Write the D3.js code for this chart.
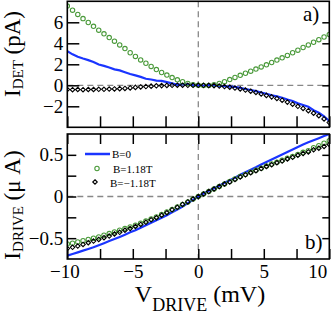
<!DOCTYPE html>
<html>
<head>
<meta charset="utf-8">
<script src="https://cdn.jsdelivr.net/npm/d3@7"></script>
<style>
  body { margin: 0; background: #fff; }
  .tick line { stroke: #000; stroke-width: 1.5; }
</style>
</head>
<body>
<div id="chart"></div>
<script>
// drive voltage (mV), shared by all series
var vDrive = [-10, -9.6, -9.2, -8.8, -8.4, -8.0, -7.6, -7.2, -6.8, -6.4, -6.0, -5.6, -5.2, -4.8, -4.4, -4.0, -3.6, -3.2, -2.8, -2.4, -2.0, -1.6, -1.2, -0.8, -0.4,
              0, 0.4, 0.8, 1.2, 1.6, 2.0, 2.4, 2.8, 3.2, 3.6, 4.0, 4.4, 4.8, 5.2, 5.6, 6.0, 6.4, 6.8, 7.2, 7.6, 8.0, 8.4, 8.8, 9.2, 9.6, 10];

// panel a) detector current (pA)
var detB0 = [3.25, 2.95, 2.72, 2.55, 2.4, 2.22, 1.98, 1.85, 1.7, 1.52, 1.42, 1.25, 1.08, 0.95, 0.8, 0.62, 0.55, 0.45, 0.42, 0.3, 0.18, 0.05, 0.12, 0.08, 0.02,
             0.0, -0.02, 0.03, 0.0, -0.05, -0.08, -0.12, -0.15, -0.25, -0.35, -0.45, -0.55, -0.68, -0.8, -0.95, -1.05, -1.18, -1.35, -1.5, -1.72, -1.88, -2.05, -2.38, -2.62, -2.95, -3.4];
var detBplus = [7.55, 7.15, 6.75, 6.35, 5.98, 5.62, 5.25, 4.9, 4.55, 4.2, 3.85, 3.5, 3.1, 2.75, 2.42, 2.1, 1.8, 1.5, 1.22, 0.97, 0.74, 0.52, 0.35, 0.18, 0.06,
                0.0, -0.03, -0.02, 0.05, 0.18, 0.35, 0.55, 0.75, 0.95, 1.15, 1.35, 1.55, 1.75, 1.95, 2.17, 2.4, 2.62, 2.85, 3.1, 3.35, 3.6, 3.85, 4.1, 4.35, 4.6, 4.85];
var detBminus = [-0.4, -0.42, -0.4, -0.42, -0.4, -0.4, -0.38, -0.38, -0.36, -0.35, -0.32, -0.3, -0.25, -0.2, -0.16, -0.12, -0.08, -0.05, -0.03, -0.01, 0.0, 0.01, 0.01, 0.0, 0.0,
                 0.0, 0.0, -0.01, -0.03, -0.07, -0.12, -0.18, -0.26, -0.35, -0.45, -0.56, -0.68, -0.82, -0.96, -1.1, -1.25, -1.42, -1.6, -1.8, -2.0, -2.2, -2.42, -2.65, -2.9, -3.2, -3.55];

// panel b) drive current (uA)
var driveB0 = [-0.71, -0.69, -0.67, -0.65, -0.63, -0.61, -0.585, -0.56, -0.535, -0.51, -0.485, -0.46, -0.43, -0.405, -0.375, -0.345, -0.315, -0.285, -0.255, -0.225, -0.19, -0.155, -0.12, -0.08, -0.04,
               0.0, 0.035, 0.07, 0.1, 0.13, 0.165, 0.195, 0.225, 0.26, 0.29, 0.32, 0.35, 0.385, 0.415, 0.445, 0.475, 0.505, 0.535, 0.565, 0.595, 0.625, 0.65, 0.675, 0.7, 0.725, 0.75];
var driveBplus = [-0.57, -0.56, -0.545, -0.53, -0.515, -0.5, -0.485, -0.465, -0.445, -0.425, -0.405, -0.385, -0.365, -0.345, -0.32, -0.295, -0.27, -0.245, -0.215, -0.185, -0.155, -0.125, -0.095, -0.065, -0.03,
                  0.0, 0.03, 0.06, 0.09, 0.12, 0.15, 0.18, 0.21, 0.24, 0.265, 0.29, 0.315, 0.34, 0.365, 0.39, 0.41, 0.435, 0.46, 0.48, 0.505, 0.53, 0.55, 0.585, 0.61, 0.64, 0.67];
var driveBminus = [-0.625, -0.61, -0.595, -0.575, -0.555, -0.535, -0.515, -0.495, -0.475, -0.45, -0.43, -0.405, -0.385, -0.36, -0.335, -0.31, -0.28, -0.255, -0.225, -0.195, -0.16, -0.13, -0.095, -0.065, -0.03,
                   0.0, 0.03, 0.06, 0.09, 0.12, 0.15, 0.175, 0.205, 0.235, 0.26, 0.285, 0.31, 0.335, 0.36, 0.38, 0.405, 0.425, 0.45, 0.47, 0.495, 0.515, 0.535, 0.56, 0.58, 0.6, 0.625];

// ticks
var xTicks = [-10, -7.5, -5, -2.5, 0, 2.5, 5, 7.5, 10];
var detTicks = [-2, 0, 2, 4, 6];
var driveTicks = [-0.5, -0.25, 0, 0.25, 0.5];
var driveTickLabels = [-0.5, 0, 0.5];

var legendNames = ["B=0", "B=1.18T", "B=\u22121.18T"];

var blue = "#1a35ff", green = "#4a9a3a", black = "#000";
var serif = "'Liberation Serif', 'DejaVu Serif', serif";

var svg = d3.select("#chart").append("svg")
            .attr("width", 332)
            .attr("height", 317)
            .attr("font-family", serif);

var left = 67.3, right = 329.3;
var x = d3.scaleLinear().domain([-10, 10]).range([left, right]);
// square-ish diamond if this d3 has it
var diamond = d3.symbolDiamond2 ? d3.symbol().type(d3.symbolDiamond2).size(13)
                                : d3.symbol().type(d3.symbolDiamond).size(13);

//puts the serif font back on axis labels (d3 sets sans-serif on the axis group)
function serifTicks(a) {
  a.attr("font-family", serif).attr("font-size", null);
  a.selectAll(".tick text").style("font-family", serif).style("font-size", "19px").attr("fill", "#000");
  a.select(".domain").remove();
}

//draws one panel: frame, dashed zero lines, data, ticks
function drawPanel(id, top, bottom, yDomain, yTicks, labelFmt, series, xTickLen, topTicks) {
  var y = d3.scaleLinear().domain(yDomain).range([bottom, top]);
  var g = svg.append("g");

  g.append("clipPath").attr("id", "clip" + id)
   .append("rect").attr("x", left).attr("y", top)
   .attr("width", right - left).attr("height", bottom - top);

  // dashed zero lines
  g.append("line")
   .attr("x1", x(0)).attr("x2", x(0)).attr("y1", top).attr("y2", bottom)
   .attr("stroke", "#888").attr("stroke-width", 1.3).attr("stroke-dasharray", "6,4");
  g.append("line")
   .attr("x1", left).attr("x2", right).attr("y1", y(0)).attr("y2", y(0))
   .attr("stroke", "#888").attr("stroke-width", 1.3).attr("stroke-dasharray", "6,4");

  var plot = g.append("g").attr("clip-path", "url(#clip" + id + ")");

  // B=0 as a line
  plot.append("path")
      .datum(series[0])
      .attr("fill", "none")
      .attr("stroke", blue)
      .attr("stroke-width", 2.2)
      .attr("d", d3.line().x(function(d, i) { return x(vDrive[i]); }).y(function(d) { return y(d); }));

  // B=1.18T open circles
  plot.selectAll(".circ")
      .data(series[1])
    .enter().append("circle")
      .attr("cx", function(d, i) { return x(vDrive[i]); })
      .attr("cy", function(d) { return y(d); })
      .attr("r", 2.2)
      .attr("fill", "none")
      .attr("stroke", green)
      .attr("stroke-width", 1.1);

  // B=-1.18T open diamonds
  plot.selectAll(".diam")
      .data(series[2])
    .enter().append("path")
      .attr("d", diamond)
      .attr("transform", function(d, i) { return "translate(" + x(vDrive[i]) + "," + y(d) + ")"; })
      .attr("fill", "none")
      .attr("stroke", black)
      .attr("stroke-width", 1.1);

  // left axis with inward ticks
  g.append("g")
   .attr("transform", "translate(" + left + ",0)")
   .call(d3.axisLeft(y).tickValues(yTicks).tickSizeInner(id == "a" ? -12 : -9).tickSizeOuter(0).tickPadding(4)
         .tickFormat(labelFmt))
   .call(serifTicks);

  // right axis
  g.append("g")
   .attr("transform", "translate(" + right + ",0)")
   .call(d3.axisRight(y).tickValues(yTicks).tickSizeInner(-7).tickSizeOuter(0).tickFormat(""))
   .call(serifTicks);

  // bottom ticks
  var bx = g.append("g")
   .attr("transform", "translate(0," + bottom + ")")
   .call(d3.axisBottom(x).tickValues(xTicks).tickSizeInner(-xTickLen).tickSizeOuter(0).tickPadding(6)
         .tickFormat(id == "b" ? function(d) { return d % 5 == 0 ? d3.format("d")(d) : ""; } : ""))
   .call(serifTicks);
  if (id == "b") {
    bx.selectAll(".tick text").filter(function(d) { return d == 10; }).attr("dx", -12);
    bx.selectAll(".tick text").filter(function(d) { return d == -10; }).attr("dx", -3);
  }

  if (topTicks) {
    g.append("g")
     .attr("transform", "translate(0," + top + ")")
     .call(d3.axisTop(x).tickValues(xTicks).tickSizeInner(-10).tickSizeOuter(0).tickFormat(""))
     .call(serifTicks);
  }

  // frame
  g.append("rect")
   .attr("x", left).attr("y", top)
   .attr("width", right - left).attr("height", bottom - top)
   .attr("fill", "none").attr("stroke", "#000").attr("stroke-width", 1.6);

  return y;
}

drawPanel("a", 1.3, 127.3, [-4, 8], detTicks, d3.format("d"), [detB0, detBplus, detBminus], 11, false);
drawPanel("b", 134, 259, [-0.75, 0.75], driveTicks,
          function(d) { return driveTickLabels.indexOf(d) < 0 ? "" : (d == 0 ? "0" : d3.format(".1f")(d)); },
          [driveB0, driveBplus, driveBminus], 10, true);

// panel tags
svg.append("text").attr("x", 303).attr("y", 21).style("font-family", serif).style("font-size", "21px").text("a)");
svg.append("text").attr("x", 305).attr("y", 249).style("font-family", serif).style("font-size", "21px").text("b)");

//y labels, rotated, with subscripts
function yLabel(cx, cy, main, sub, unit) {
  var t = svg.append("text")
             .attr("transform", "translate(" + cx + "," + cy + ") rotate(-90)")
             .attr("text-anchor", "middle")
             .style("font-family", serif)
             .style("font-size", "23px");
  t.append("tspan").text(main);
  t.append("tspan").attr("dy", 3).style("font-size", "15px").text(sub);
  t.append("tspan").attr("dy", -3).text("\u00a0" + unit);
}
yLabel(20, 54, "I", "DET", "(pA)");
yLabel(20, 205, "I", "DRIVE", "(\u03bc A)");

// x label
var xl = svg.append("text")
            .attr("x", 200).attr("y", 302)
            .attr("text-anchor", "middle")
            .style("font-family", serif)
            .style("font-size", "24px");
xl.append("tspan").text("V");
xl.append("tspan").attr("dy", 9).style("font-size", "18px").text("DRIVE");
xl.append("tspan").attr("dy", -9).text("\u00a0(mV)");

//legend in panel b
var leg = svg.append("g").style("font-family", serif).style("font-size", "11px");
leg.append("line").attr("x1", 85).attr("x2", 110).attr("y1", 154).attr("y2", 154)
   .attr("stroke", blue).attr("stroke-width", 2.5);
leg.append("circle").attr("cx", 97).attr("cy", 168.5).attr("r", 2.2)
   .attr("fill", "none").attr("stroke", green).attr("stroke-width", 1.1);
leg.append("path").attr("d", diamond())
   .attr("transform", "translate(95,182)")
   .attr("fill", "none").attr("stroke", black).attr("stroke-width", 1.1);
leg.append("text").attr("x", 112).attr("y", 158).text(legendNames[0]);
leg.append("text").attr("x", 113).attr("y", 173).text(legendNames[1]);
leg.append("text").attr("x", 110).attr("y", 187).text(legendNames[2]);
</script>
</body>
</html>
